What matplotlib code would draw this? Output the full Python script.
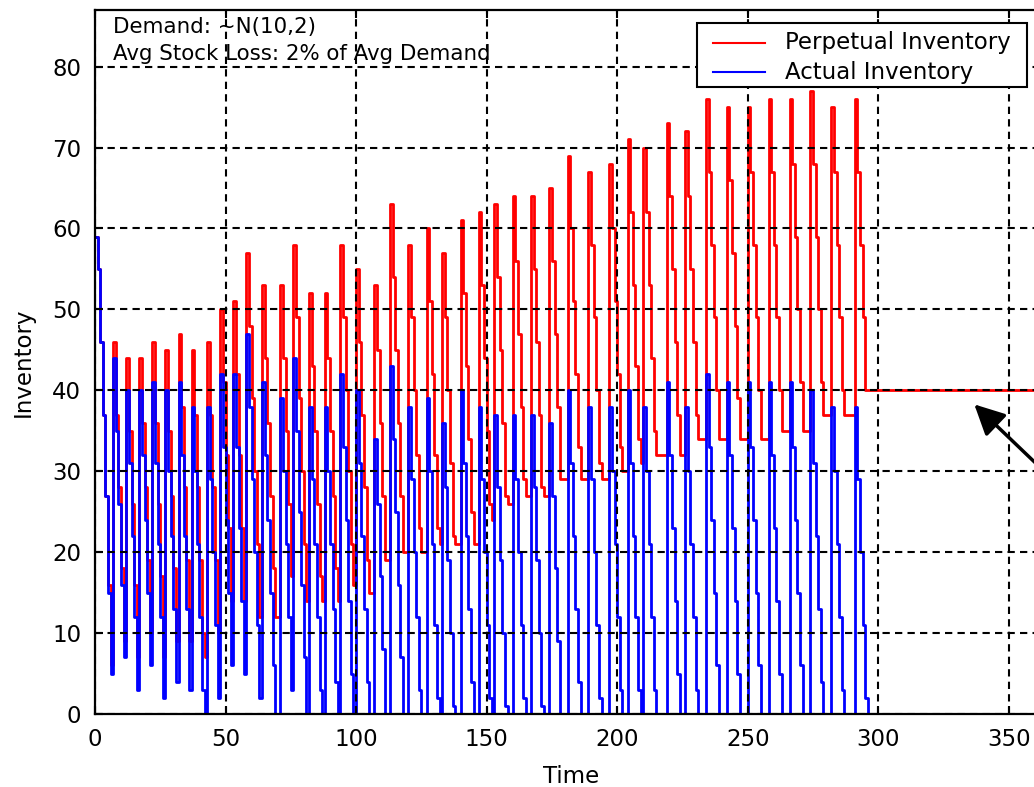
import numpy as np
import matplotlib
matplotlib.use("Agg")
import matplotlib.pyplot as plt
from matplotlib.lines import Line2D
from matplotlib.patches import Rectangle

# daily stock per replenishment cycle
actual_cycles = [
    [59, 55, 46, 37, 27, 15, 5],
    [44, 35, 26, 16, 7],
    [40, 31, 22, 12, 3],
    [40, 32, 24, 15, 6],
    [41, 31, 21, 12, 2],
    [40, 30, 22, 13, 4],
    [41, 32, 22, 13, 3],
    [38, 30, 21, 12, 3, 0],
    [38, 29, 20, 11, 2],
    [42, 33, 24, 15, 6],
    [42, 33, 23, 14, 5],
    [47, 38, 29, 20, 11, 2],
    [41, 32, 24, 15, 6, 0, 0],
    [39, 30, 21, 12, 3],
    [44, 35, 25, 16, 7, 0],
    [38, 29, 21, 12, 3, 0],
    [38, 30, 21, 13, 4, 0],
    [42, 33, 24, 14, 5, 0],
    [40, 31, 22, 13, 4, 0, 0],
    [34, 26, 17, 8, 0, 0],
    [43, 34, 25, 16, 7, 0, 0],
    [38, 29, 20, 12, 3, 0, 0],
    [39, 30, 21, 11, 2, 0],
    [36, 28, 19, 10, 1, 0, 0],
    [40, 31, 22, 13, 4, 0, 0],
    [38, 29, 20, 11, 2, 0],
    [37, 28, 19, 10, 1, 0, 0],
    [37, 29, 20, 11, 2, 0, 0],
    [37, 28, 19, 10, 1, 0, 0],
    [36, 27, 18, 9, 0, 0, 0],
    [40, 31, 22, 13, 4, 0, 0, 0],
    [38, 29, 20, 11, 2, 0, 0, 0],
    [38, 30, 21, 12, 3, 0, 0],
    [40, 31, 22, 12, 3, 0],
    [38, 30, 21, 12, 3, 0, 0, 0, 0],
    [41, 32, 23, 14, 5, 0, 0],
    [38, 30, 21, 12, 3, 0, 0, 0],
    [42, 33, 24, 15, 6, 0, 0, 0],
    [41, 32, 23, 14, 5, 0, 0, 0],
    [41, 33, 24, 15, 6, 0, 0, 0],
    [41, 32, 23, 14, 5, 0, 0, 0],
    [41, 33, 24, 15, 6, 0, 0, 0],
    [40, 31, 22, 13, 4, 0, 0, 0],
    [38, 30, 21, 12, 3, 0, 0, 0, 0],
    [38, 29, 20, 11, 2],
]

perpetual_cycles = [
    [59, 55, 46, 37, 27, 16, 6],
    [46, 37, 28, 18, 9],
    [44, 35, 26, 16, 7],
    [44, 36, 28, 19, 10],
    [46, 36, 26, 17, 7],
    [45, 35, 27, 18, 9],
    [47, 38, 28, 19, 9],
    [45, 37, 28, 19, 10, 7],
    [46, 37, 28, 19, 10],
    [50, 41, 32, 23, 14],
    [51, 42, 32, 23, 14],
    [57, 48, 39, 30, 21, 12],
    [53, 44, 36, 27, 18, 12, 12],
    [53, 44, 35, 26, 17],
    [58, 49, 39, 30, 21, 14],
    [52, 43, 35, 26, 17, 14],
    [52, 44, 35, 27, 18, 14],
    [58, 49, 40, 30, 21, 16],
    [55, 46, 37, 28, 19, 15, 15],
    [53, 45, 36, 27, 19, 19],
    [63, 54, 45, 36, 27, 20, 20],
    [58, 49, 40, 32, 23, 20, 20],
    [60, 51, 42, 32, 23, 21],
    [57, 49, 40, 31, 22, 21, 21],
    [61, 52, 43, 34, 25, 21, 21],
    [62, 53, 44, 35, 26, 24],
    [63, 54, 45, 36, 27, 26, 26],
    [64, 56, 47, 38, 29, 27, 27],
    [64, 55, 46, 37, 28, 27, 27],
    [65, 56, 47, 38, 29, 29, 29],
    [69, 60, 51, 42, 33, 29, 29, 29],
    [67, 58, 49, 40, 31, 29, 29, 29],
    [68, 60, 51, 42, 33, 30, 30],
    [71, 62, 53, 43, 34, 31],
    [70, 62, 53, 44, 35, 32, 32, 32, 32],
    [73, 64, 55, 46, 37, 32, 32],
    [72, 64, 55, 46, 37, 34, 34, 34],
    [76, 67, 58, 49, 40, 34, 34, 34],
    [75, 66, 57, 48, 39, 34, 34, 34],
    [75, 67, 58, 49, 40, 34, 34, 34],
    [76, 67, 58, 49, 40, 35, 35, 35],
    [76, 68, 59, 50, 41, 35, 35, 35],
    [77, 68, 59, 50, 41, 37, 37, 37],
    [75, 67, 58, 49, 40, 37, 37, 37, 37],
    [76, 67, 58, 49, 40],
]

# after the last order the system freezes
frozen_actual = 0
frozen_perpetual = 40
end_day = 365

series_names = ["Perpetual Inventory", "Actual Inventory"]
series_colors = ["#ff0000", "#0000ff"]

actual = np.concatenate(actual_cycles + [[frozen_actual, frozen_actual]])
perpetual = np.concatenate(perpetual_cycles + [[frozen_perpetual, frozen_perpetual]])
days = np.r_[np.arange(len(actual) - 1), end_day]

W, H = 1034, 787
fig = plt.figure(figsize=(W / 100, H / 100), dpi=100)
ax = fig.add_axes([95 / W, 73 / H, 953 / W, 704 / H])

for vals, name, col in zip([perpetual, actual], series_names, series_colors):
    ax.step(days, vals, where="post", color=col, lw=2.0, label=name)

ax.set_xlim(0, end_day)
ax.set_ylim(0, 87)
ax.set_xticks(np.arange(0, 351, 50))
ax.set_yticks(np.arange(0, 81, 10))

ax.set_axisbelow(False)
ax.grid(True, color="black", ls=(0, (3.5, 2.5)), lw=1.5)
ax.tick_params(direction="in", length=6, width=1.5, top=True, right=True,
               labelsize=16.5, pad=10)
for s in ax.spines.values():
    s.set_linewidth(1.6)

ax.set_xlabel("Time", fontsize=16.5)
ax.set_ylabel("Inventory", fontsize=16.5)
ax.xaxis.set_label_coords(0.5, -0.072)
ax.yaxis.set_label_coords(-0.063, 0.5)

fig.text(113 / W, 1 - 33 / H, "Demand: ~N(10,2)", fontsize=15.4, va="baseline")
fig.text(113 / W, 1 - 60 / H, "Avg Stock Loss: 2% of Avg Demand", fontsize=15.4, va="baseline")

# legend box, laid out in pixels like the original
fig.add_artist(Rectangle((697 / W, 1 - 87 / H), 330 / W, 64 / H, transform=fig.transFigure,
                         facecolor="white", edgecolor="black", lw=1.5, zorder=5))
for i, (name, col) in enumerate(zip(series_names, series_colors)):
    yy = 1 - (43 + 29 * i) / H
    fig.add_artist(Line2D([713 / W, 765 / W], [yy, yy], transform=fig.transFigure,
                          color=col, lw=1.5, zorder=6))
    fig.text(785 / W, yy, name, fontsize=16.5, va="center", zorder=6)

ax.annotate("", xy=(336, 38.5), xytext=(381, 24.6),
            arrowprops=dict(arrowstyle="-|>", color="black", lw=2.5, mutation_scale=46),
            annotation_clip=False)

fig.savefig("out.png", dpi=100)
